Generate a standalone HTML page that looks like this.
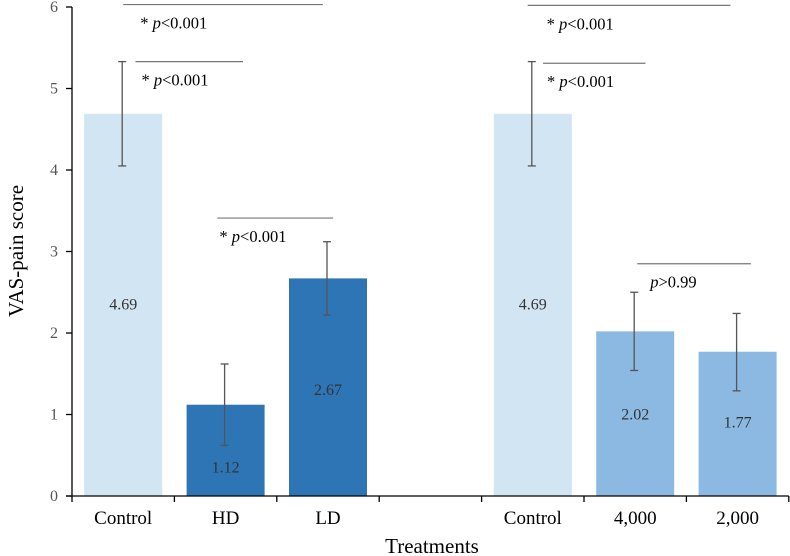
<!DOCTYPE html>
<html><head><meta charset="utf-8"><style>
html,body{margin:0;padding:0;background:#fff;}
svg{display:block;font-family:"Liberation Serif",serif;}
</style></head><body>
<svg id="chart" width="790" height="556" viewBox="0 0 790 556"></svg>
<script>
const categories = ["Control","HD","LD","","Control","4,000","2,000"];
const values = [4.69,1.12,2.67,null,4.69,2.02,1.77];
const errLow = [4.05,0.62,2.22,null,4.05,1.54,1.29];
const errHigh = [5.33,1.62,3.12,null,5.33,2.50,2.24];
const valueLabels = ["4.69","1.12","2.67","","4.69","2.02","1.77"];
const labelPos = [2.35,0.35,1.3,null,2.35,1.0,0.9];
const colors = ["#d2e5f3","#2e75b6","#2e75b6",null,"#d2e5f3","#8cb9e1","#8cb9e1"];
const yTicks = [0,1,2,3,4,5,6];
const sigStart = [0.5,0.62,1.42,4.45,4.6,5.52];
const sigEnd = [2.45,1.67,2.55,6.43,5.6,6.63];
const sigY = [6.03,5.33,3.41,6.02,5.31,2.85];
const sigText = ["<0.001","<0.001","<0.001","<0.001","<0.001",">0.99"];
const sigStar = [true,true,true,true,true,false];

const svg = document.getElementById('chart');
const NS = "http://www.w3.org/2000/svg";
const x0 = 72, catW = 102.4, y0 = 496, yTop = 7, yMax = 6;
const sigTextDx = [17,6,2,19,4,13];
const y = v => y0 - (y0 - yTop) * v / yMax;
const xc = i => x0 + catW * (i + 0.5);
const xs = v => x0 + catW * v;
function mk(tag, attrs, parent) {
  const e = document.createElementNS(NS, tag);
  for (const k in attrs) e.setAttribute(k, attrs[k]);
  (parent || svg).appendChild(e);
  return e;
}
values.forEach((v, i) => {
  if (v === null) return;
  const r = mk('rect', {x: xc(i) - 39, y: y(v), width: 78, height: y0 - y(v), fill: colors[i]});
  
  
});
values.forEach((v, i) => {
  if (v === null) return;
  const g = mk('g', {stroke: '#555', 'stroke-width': 1.3});
  
  
  const cx = xc(i) - 1;
  mk('line', {x1: cx, x2: cx, y1: y(errLow[i]), y2: y(errHigh[i])}, g);
  mk('line', {x1: cx - 4, x2: cx + 4, y1: y(errLow[i]), y2: y(errLow[i])}, g);
  mk('line', {x1: cx - 4, x2: cx + 4, y1: y(errHigh[i]), y2: y(errHigh[i])}, g);
});
values.forEach((v, i) => {
  if (v === null) return;
  const t = mk('text', {x: xc(i), y: y(labelPos[i]) + 5, 'text-anchor': 'middle', 'font-size': 16, fill: '#333'});
  t.textContent = valueLabels[i];
  
  
});
const ax = mk('g', {stroke: '#000', 'stroke-width': 1.3});


mk('line', {x1: x0, x2: x0, y1: yTop, y2: y0}, ax);
mk('line', {x1: x0 - 6, x2: x0 + catW * 7, y1: y0, y2: y0}, ax);
yTicks.forEach(t => {
  mk('line', {x1: x0 - 6, x2: x0, y1: y(t), y2: y(t)}, ax);
  const l = mk('text', {x: x0 - 14, y: y(t) + 5, 'text-anchor': 'end', 'font-size': 16, fill: '#555', stroke: 'none'});
  l.textContent = t;
  
  
});
for (let i = 0; i <= 7; i++) mk('line', {x1: xs(i), x2: xs(i), y1: y0, y2: y0 + 6}, ax);
categories.forEach((c, i) => {
  if (!c) return;
  const l = mk('text', {x: xc(i), y: 524, 'text-anchor': 'middle', 'font-size': 19, fill: '#000'});
  l.textContent = c;
  
  
});
sigStart.forEach((s, i) => {
  const g = mk('g', {});
  
  
  mk('line', {x1: xs(s), x2: xs(sigEnd[i]), y1: y(sigY[i]), y2: y(sigY[i]), stroke: '#777', 'stroke-width': 1.2}, g);
  const t = mk('text', {x: xs(s) + sigTextDx[i], y: y(sigY[i]) + 24, 'font-size': 16.5, fill: '#000'}, g);
  if (sigStar[i]) { const st = mk('tspan', {}, t); st.textContent = '* '; }
  const p = mk('tspan', {'font-style': 'italic'}, t); p.textContent = 'p';
  const r = mk('tspan', {}, t); r.textContent = sigText[i];
});
const yt = mk('text', {x: 0, y: 0, transform: 'translate(23,251) rotate(-90)', 'text-anchor': 'middle', 'font-size': 21, fill: '#000'});
yt.textContent = 'VAS-pain score';


const xt = mk('text', {x: 432, y: 553, 'text-anchor': 'middle', 'font-size': 21, fill: '#000'});
xt.textContent = 'Treatments';


</script>
</body></html>
